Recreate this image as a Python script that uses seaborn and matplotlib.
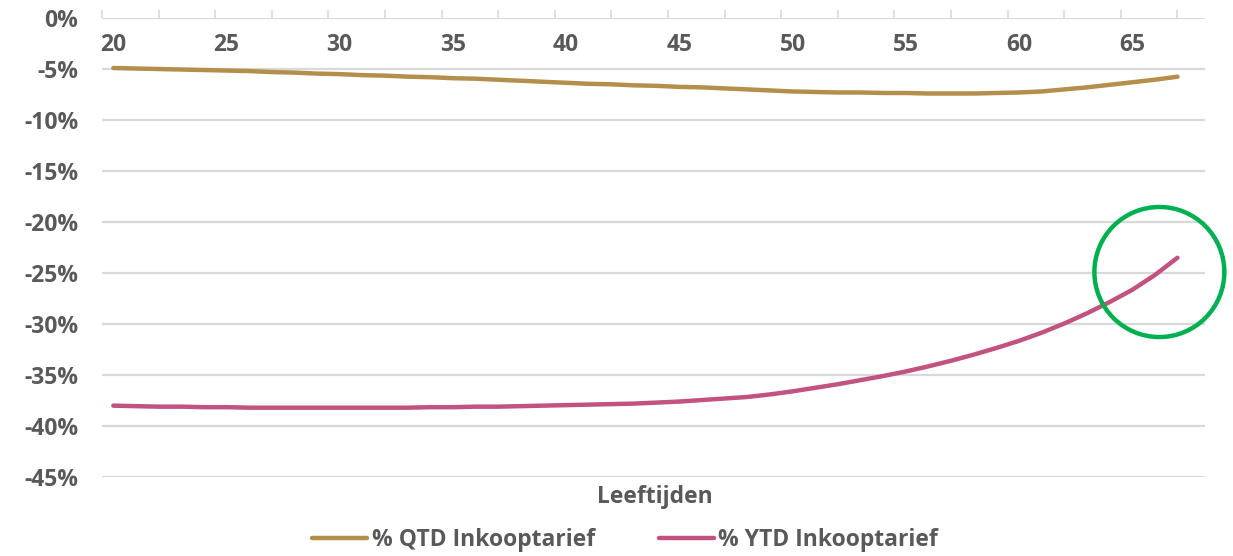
import numpy as np
import pandas as pd
import matplotlib
matplotlib.use('Agg')
import matplotlib.pyplot as plt
import matplotlib.transforms as mtransforms
from matplotlib.patches import Ellipse
import seaborn as sns

# ages on the category axis
ages = list(range(20, 68))

# % QTD Inkooptarief
qtd = [-4.90, -4.95, -5.00, -5.05, -5.10, -5.15, -5.20, -5.30, -5.35, -5.45,
       -5.50, -5.60, -5.65, -5.75, -5.80, -5.90, -5.95, -6.05, -6.15, -6.25,
       -6.35, -6.45, -6.50, -6.60, -6.65, -6.75, -6.80, -6.90, -7.00, -7.10,
       -7.20, -7.25, -7.30, -7.30, -7.35, -7.35, -7.40, -7.40, -7.40, -7.35,
       -7.30, -7.20, -7.00, -6.80, -6.55, -6.30, -6.05, -5.75]

# % YTD Inkooptarief
ytd = [-38.00, -38.05, -38.10, -38.10, -38.15, -38.15, -38.20, -38.20, -38.20, -38.20,
       -38.20, -38.20, -38.20, -38.20, -38.15, -38.15, -38.10, -38.10, -38.05, -38.00,
       -37.95, -37.90, -37.85, -37.80, -37.70, -37.60, -37.45, -37.30, -37.15, -36.90,
       -36.60, -36.25, -35.90, -35.50, -35.10, -34.65, -34.15, -33.60, -33.00, -32.35,
       -31.65, -30.85, -29.95, -28.95, -27.85, -26.65, -25.20, -23.50]

yticks = [0, -5, -10, -15, -20, -25, -30, -35, -40, -45]
xticks = [20, 25, 30, 35, 40, 45, 50, 55, 60, 65]

df = pd.DataFrame({'Leeftijd': ages, 'qtd': qtd, 'ytd': ytd})

sns.set_style('white')
plt.rcParams['font.family'] = ['Open Sans', 'DejaVu Sans']
plt.rcParams['font.weight'] = 'bold'
fs = 16.5

fig = plt.figure(figsize=(12.33, 5.56), dpi=100)
ax = fig.add_axes([0.0827, 0.142, 0.977 - 0.0827, 0.9676 - 0.142])

txt = '#595959'
grid = '#D9D9D9'

for y in yticks:
    ax.axhline(y, color=grid, lw=1.6, zorder=0)

sns.lineplot(data=df, x='Leeftijd', y='qtd', ax=ax, color='#B38F4B', lw=3.2,
             label='% QTD Inkooptarief', legend=False)
sns.lineplot(data=df, x='Leeftijd', y='ytd', ax=ax, color='#C2527F', lw=3.2,
             label='% YTD Inkooptarief', legend=False)

ax.set_xlim(19.5, 68.2)
ax.set_ylim(-45, 0)
for s in ax.spines.values():
    s.set_visible(False)

ax.set_yticks(yticks)
ax.set_yticklabels([f'{v}%' for v in yticks], color=txt, fontsize=fs)
ax.tick_params(axis='y', length=0, pad=17)

# category axis sits at 0% on top; labels just under the axis line
ax.xaxis.set_ticks_position('top')
ax.set_xticks(np.arange(19.5, 68.5, 2.5))
ax.set_xticklabels([])
ax.tick_params(axis='x', length=6, width=1.2, color=grid, top=True, bottom=False,
               direction='out', labeltop=False, labelbottom=False)
trans = mtransforms.blended_transform_factory(ax.transData, ax.transAxes)
for v in xticks:
    ax.text(v, 0.941, str(v), transform=trans, ha='center', va='center',
            color=txt, fontsize=fs)
ax.set_xlabel('')
ax.set_ylabel('')

fig.text(0.531, 0.106, 'Leeftijden', ha='center', va='center', color=txt, fontsize=fs)

circle = Ellipse((66.2, -24.9), width=5.74, height=12.75, fill=False,
                 edgecolor='#00B050', lw=3.2, clip_on=False, zorder=5)
ax.add_patch(circle)

handles, labels = ax.get_legend_handles_labels()
fig.legend(handles, labels, loc='center', bbox_to_anchor=(0.507, 0.029), ncol=2,
           frameon=False, fontsize=fs, labelcolor=txt, handlelength=2.4,
           handletextpad=0.2, columnspacing=2.8)

fig.savefig('out.png', dpi=100)
